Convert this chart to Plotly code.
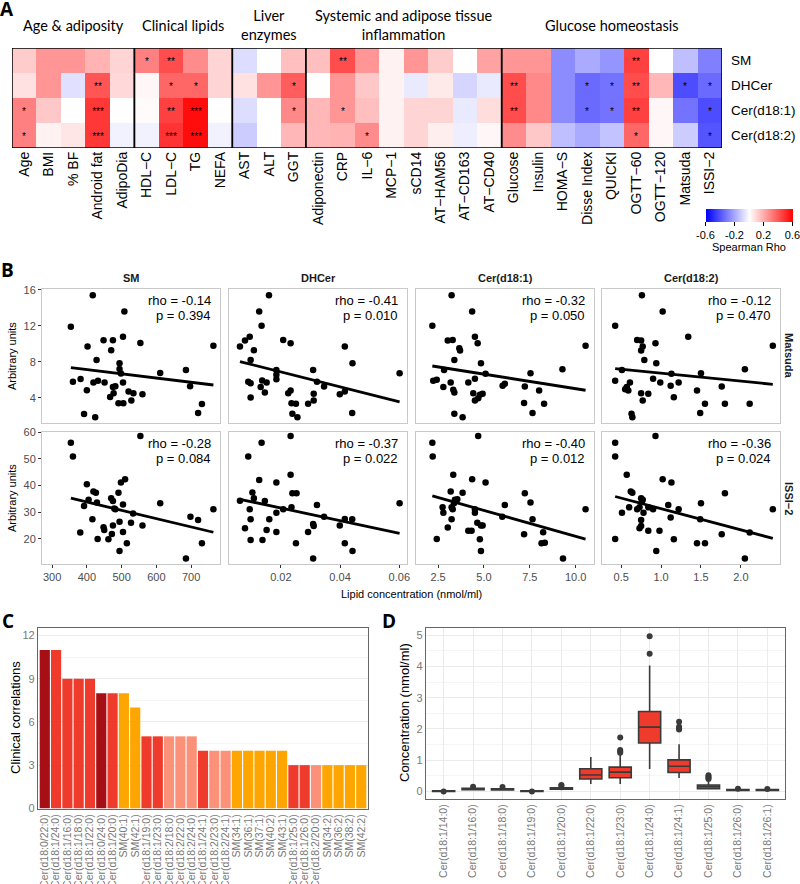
import numpy as np
import plotly.graph_objects as go

W, H = 800, 884
def px(x): return x / W
def py(y): return 1 - y / H

FONT = "Liberation Sans, Arial, sans-serif"
TITLEFONT = "Lato, Open Sans, sans-serif"

# ---------------- Panel A data ----------------
hm_cols = ["Age", "BMI", "% BF", "Android fat", "AdipoDia",
           "HDL−C", "LDL−C", "TG", "NEFA",
           "AST", "ALT", "GGT",
           "Adiponectin", "CRP", "IL−6", "MCP−1", "sCD14", "AT−HAM56", "AT−CD163", "AT−CD40",
           "Glucose", "Insulin", "HOMA−S", "Disse Index", "QUICKI", "OGTT−60", "OGTT−120", "Matsuda", "ISSI−2"]
hm_rows = ["SM", "DHCer", "Cer(d18:1)", "Cer(d18:2)"]

rho_sm = [0.12, 0.25, 0.25, 0.18, 0.10, 0.30, 0.42, 0.27, 0.10, -0.08, 0.0, 0.15,
          0.15, 0.42, 0.25, 0.03, 0.25, 0.12, 0.0, 0.22,
          0.25, 0.25, -0.27, -0.20, -0.25, 0.45, 0.0, -0.15, -0.30]
rho_dhcer = [0.07, 0.25, -0.07, 0.40, 0.09, 0.02, 0.36, 0.36, 0.10, 0.07, 0.25, 0.38,
             0.0, 0.25, 0.13, 0.03, -0.05, 0.05, -0.10, -0.05,
             0.42, 0.28, -0.27, -0.35, -0.33, 0.42, 0.17, -0.42, -0.35]
rho_c1 = [0.30, 0.13, 0.0, 0.47, 0.0, 0.01, 0.45, 0.57, 0.0, -0.08, 0.0, 0.28,
          0.17, 0.25, 0.15, 0.03, 0.10, 0.10, -0.05, 0.08,
          0.42, 0.28, -0.27, -0.35, -0.33, 0.45, 0.02, -0.33, -0.42]
rho_c2 = [0.30, 0.03, 0.06, 0.47, -0.03, -0.03, 0.48, 0.57, -0.03, -0.12, 0.0, 0.17,
          0.17, 0.18, 0.27, 0.03, 0.10, 0.04, -0.04, 0.02,
          0.27, 0.13, -0.15, -0.20, -0.14, 0.36, 0.02, -0.12, -0.40]

sig_sm = ["", "", "", "", "", "*", "**", "", "", "", "", "",
          "", "**", "", "", "", "", "", "",
          "", "", "", "", "", "**", "", "", ""]
sig_dhcer = ["", "", "", "**", "", "", "*", "*", "", "", "", "*",
             "", "", "", "", "", "", "", "",
             "**", "", "", "*", "*", "**", "", "*", "*"]
sig_c1 = ["*", "", "", "***", "", "", "**", "***", "", "", "", "*",
          "", "*", "", "", "", "", "", "",
          "**", "", "", "*", "*", "**", "", "", "*"]
sig_c2 = ["*", "", "", "***", "", "", "***", "***", "", "", "", "",
          "", "", "*", "", "", "", "", "",
          "", "", "", "", "", "*", "", "", "*"]

group_names = ["Age & adiposity", "Clinical lipids", "Liver<br>enzymes",
               "Systemic and adipose tissue<br>inflammation", "Glucose homeostasis"]
group_sizes = [5, 4, 3, 8, 9]
cbar_ticks = [-0.6, -0.2, 0.2, 0.6]

# ---------------- Panel B data ----------------
b_lipids = ["SM", "DHCer", "Cer(d18:1)", "Cer(d18:2)"]
b_outcomes = ["Matsuda", "ISSI−2"]

x_sm_mat = [354, 360, 382, 402, 400, 392, 424, 428, 432, 419, 448, 451, 475, 470, 475, 467, 482, 477, 494,
            494, 498, 504, 508, 504, 491, 505, 520, 528, 534, 554, 560, 611, 685, 697, 720, 731, 764, 417]
y_sm_mat = [11.9, 5.8, 6.1, 9.7, 4.85, 2.2, 1.85, 8.2, 5.9, 5.7, 10.4, 5.7, 10.4, 9.3, 5.2, 4.1, 5.3, 4.5, 7.85,
            7.2, 6.7, 5.7, 13.6, 10.8, 3.4, 3.4, 4.7, 3.7, 4.5, 10.1, 4.4, 6.75, 7.1, 5.3, 2.3, 3.3, 9.8, 15.4]

x_dh_mat = [0.0062, 0.0079, 0.0095, 0.0098, 0.0109, 0.0127, 0.0135, 0.0090, 0.0098, 0.0098, 0.0132, 0.0137,
            0.0152, 0.0146, 0.0185, 0.0185, 0.0185, 0.0208, 0.0233, 0.0225, 0.0233, 0.0236, 0.0239, 0.0251,
            0.0256, 0.0292, 0.0309, 0.0311, 0.0311, 0.0322, 0.0346, 0.0399, 0.0416, 0.0416, 0.0442, 0.0441,
            0.0601, 0.0160]
y_dh_mat = [9.7, 10.37, 10.8, 8.2, 9.3, 13.6, 12.0, 5.8, 5.63, 4.04, 5.2, 5.93,
            5.7, 4.6, 7.1, 6.56, 6.07, 10.44, 10.07, 4.52, 4.8, 3.4, 2.22, 3.33,
            1.85, 3.33, 7.1, 4.44, 3.7, 5.8, 5.26, 4.4, 4.7, 9.7, 7.85, 2.3,
            6.74, 15.4]

x_c1_mat = [2.19, 4.36, 3.03, 3.30, 3.66, 3.70, 3.39, 4.51, 4.66, 4.84, 2.83, 2.24, 2.43, 2.79, 3.19, 3.33,
            3.39, 4.15, 4.51, 5.09, 4.42, 4.78, 4.93, 4.51, 4.69, 6.02, 6.14, 7.23, 7.19, 7.54, 8.01, 8.28,
            7.65, 9.28, 10.54, 3.39, 3.84, 3.24]
y_c1_mat = [12.0, 13.6, 10.37, 10.44, 9.52, 9.26, 8.2, 10.8, 10.07, 7.85, 7.1, 5.89, 6.0, 5.2, 5.7, 4.89,
            4.6, 5.7, 6.11, 6.67, 4.52, 4.33, 4.44, 3.7, 3.96, 5.33, 5.56, 5.26, 3.41, 6.74, 4.81, 3.33,
            2.3, 7.19, 9.8, 2.22, 1.85, 15.4]

x_c2_mat = [0.425, 1.02, 0.70, 0.75, 0.77, 0.75, 0.79, 0.93, 0.94, 1.34, 0.51, 0.425, 0.61, 0.57, 0.59, 0.55,
            0.90, 0.99, 1.13, 1.22, 1.12, 0.75, 0.84, 0.77, 1.16, 1.50, 1.45, 1.55, 1.49, 1.76, 1.80, 2.05,
            2.11, 2.40, 0.63, 0.64, 0.76]
y_c2_mat = [12.0, 13.6, 10.44, 10.37, 9.7, 9.26, 8.2, 10.07, 7.85, 10.8, 7.1, 5.89, 5.7, 5.2, 4.81, 4.96,
            6.11, 5.7, 6.67, 5.7, 5.33, 4.52, 4.44, 3.7, 4.07, 6.74, 4.81, 3.33, 2.3, 5.26, 3.33, 7.19,
            3.33, 9.8, 2.22, 1.85, 15.4]

x_sm_issi = [354, 360, 554, 400, 405, 392, 419, 426, 429, 416, 381, 431, 448, 450, 462, 472, 475, 470, 475,
             491, 498, 510, 479, 482, 504, 494, 504, 515, 533, 527, 560, 611, 698, 720, 731, 764, 494, 685]
y_sm_issi = [56.1, 50.9, 58.6, 40.5, 34.6, 32.3, 37.7, 37.3, 33.6, 27.3, 22.3, 19.9, 24.3, 23.3, 19.8, 21.8,
             25.0, 35.2, 34.2, 37.3, 41.1, 42.3, 31.4, 31.1, 32.9, 26.4, 22.5, 18.3, 29.5, 26.0, 25.0, 33.3,
             28.3, 27.0, 18.3, 31.1, 15.4, 12.6]

x_dh_issi = [0.0062, 0.0079, 0.0090, 0.0095, 0.0098, 0.0098, 0.0104, 0.0109, 0.0127, 0.0135, 0.0138, 0.0146,
             0.0152, 0.0161, 0.0185, 0.0185, 0.0185, 0.0208, 0.0233, 0.0233, 0.0236, 0.0239, 0.0253, 0.0251,
             0.0292, 0.0309, 0.0311, 0.0322, 0.0346, 0.0399, 0.0416, 0.0441, 0.0416, 0.0601, 0.0309, 0.0442]
y_dh_issi = [34.3, 23.9, 50.9, 31.1, 27.3, 19.5, 37.4, 35.2, 42.1, 56.1, 19.5, 34.2,
             23.3, 27.3, 41.1, 29.8, 22.5, 31.1, 58.6, 44.0, 31.8, 37.1, 37.1, 18.3,
             22.5, 25.5, 24.8, 32.7, 28.3, 25.0, 27.4, 27.3, 18.3, 33.3, 12.6, 15.4]

x_c1_issi = [2.19, 2.21, 4.69, 3.33, 4.36, 5.09, 3.19, 3.84, 3.42, 3.55, 2.75, 2.79, 3.24, 3.30, 3.37, 4.51,
             4.51, 4.84, 4.64, 4.93, 3.24, 3.03, 4.15, 4.33, 4.78, 6.0, 6.14, 7.23, 7.54, 7.65, 7.19, 8.23,
             8.32, 8.14, 10.54, 2.43, 4.84, 9.31]
y_c1_issi = [56.1, 50.9, 58.6, 44.0, 42.3, 41.1, 37.7, 37.3, 34.6, 34.8, 31.8, 29.8, 31.8, 31.1, 33.3, 31.1,
             29.8, 25.0, 26.0, 25.0, 27.3, 24.2, 23.0, 23.0, 19.8, 28.3, 32.7, 37.1, 33.6, 27.3, 21.7, 22.4,
             18.5, 18.3, 31.1, 19.9, 15.4, 12.6]

x_c2_issi = [0.425, 0.425, 0.93, 0.57, 1.02, 1.13, 0.62, 0.64, 0.75, 0.77, 0.76, 0.60, 0.73, 0.70, 0.51, 0.78,
             0.84, 0.90, 0.75, 0.75, 0.73, 0.84, 0.98, 1.09, 1.22, 1.12, 1.50, 1.49, 1.80, 1.76, 2.11, 2.40,
             0.425, 1.16, 0.94, 1.45, 1.55, 2.05]
y_c2_issi = [56.1, 50.9, 58.6, 44.0, 42.3, 41.1, 37.7, 37.3, 35.2, 34.6, 33.9, 31.8, 31.8, 31.1, 29.8, 29.8,
             31.8, 31.1, 27.0, 24.8, 23.9, 23.0, 23.0, 32.7, 31.1, 28.0, 33.3, 27.3, 37.1, 21.7, 22.3, 31.1,
             19.9, 19.8, 15.4, 18.3, 18.3, 12.6]

b_rho = ["-0.14", "-0.41", "-0.32", "-0.12", "-0.28", "-0.37", "-0.40", "-0.36"]
b_p = ["0.394", "0.010", "0.050", "0.470", "0.084", "0.022", "0.012", "0.024"]

b_xticks = [[300, 400, 500, 600, 700], [0.02, 0.04, 0.06], [2.5, 5.0, 7.5, 10.0], [0.5, 1.0, 1.5, 2.0]]
b_xtick_text = [["300", "400", "500", "600", "700"], ["0.02", "0.04", "0.06"],
                ["2.5", "5.0", "7.5", "10.0"], ["0.5", "1.0", "1.5", "2.0"]]
b_xranges = [[271, 783], [0.0025, 0.0626], [1.3, 11.0], [0.26, 2.49]]
b_yticks = [[4, 8, 12, 16], [20, 30, 40, 50, 60]]
b_yranges = [[1.2, 16.1], [10.5, 60.1]]

# ---------------- Panel C data ----------------
c_species = ["Cer(d18:0/22:0)", "Cer(d18:1/24:0)", "Cer(d18:1/16:0)", "Cer(d18:1/18:0)", "Cer(d18:1/22:0)",
             "Cer(d18:0/24:0)", "Cer(d18:1/20:0)", "SM(40:1)", "SM(42:1)", "Cer(d18:1/19:0)",
             "Cer(d18:1/23:0)", "Cer(d18:2/18:0)", "Cer(d18:2/22:0)", "Cer(d18:2/24:0)", "Cer(d18:1/24:1)",
             "Cer(d18:2/23:0)", "Cer(d18:2/24:1)", "SM(34:1)", "SM(36:1)", "SM(37:1)", "SM(40:2)", "SM(43:1)",
             "Cer(d18:1/25:0)", "Cer(d18:1/26:0)", "Cer(d18:2/20:0)", "SM(34:2)", "SM(36:2)", "SM(38:2)",
             "SM(42:2)"]
c_counts = [11, 11, 9, 9, 9, 8, 8, 8, 7, 5, 5, 5, 5, 5, 4, 4, 4, 4, 4, 4, 4, 4, 3, 3, 3, 3, 3, 3, 3]
c_class = ["d18:0", "d18:1", "d18:1", "d18:1", "d18:1", "d18:0", "d18:1", "SM", "SM", "d18:1",
           "d18:1", "d18:2", "d18:2", "d18:2", "d18:1", "d18:2", "d18:2", "SM", "SM", "SM", "SM", "SM",
           "d18:1", "d18:1", "d18:2", "SM", "SM", "SM", "SM"]
class_colors = {"d18:0": "#A50F15", "d18:1": "#EF3B2C", "d18:2": "#FB9178", "SM": "#FFA500"}
c_yticks = [0, 3, 6, 9, 12]

# ---------------- Panel D data ----------------
d_species = ["Cer(d18:1/14:0)", "Cer(d18:1/16:0)", "Cer(d18:1/18:0)", "Cer(d18:1/19:0)", "Cer(d18:1/20:0)",
             "Cer(d18:1/22:0)", "Cer(d18:1/23:0)", "Cer(d18:1/24:0)", "Cer(d18:1/24:1)", "Cer(d18:1/25:0)",
             "Cer(d18:1/26:0)", "Cer(d18:1/26:1)"]
d_low = [0.0, 0.04, 0.03, 0.0, 0.04, 0.24, 0.24, 0.72, 0.43, 0.06, 0.01, 0.01]
d_q1 = [0.005, 0.06, 0.05, 0.005, 0.07, 0.40, 0.44, 1.55, 0.61, 0.09, 0.03, 0.03]
d_med = [0.012, 0.08, 0.07, 0.012, 0.09, 0.53, 0.62, 2.06, 0.81, 0.15, 0.04, 0.04]
d_q3 = [0.02, 0.10, 0.09, 0.02, 0.12, 0.73, 0.78, 2.56, 1.01, 0.21, 0.06, 0.06]
d_high = [0.035, 0.13, 0.12, 0.035, 0.16, 1.10, 1.17, 4.03, 1.51, 0.32, 0.08, 0.08]
d_out_x = ["Cer(d18:1/16:0)", "Cer(d18:1/18:0)", "Cer(d18:1/20:0)", "Cer(d18:1/20:0)",
           "Cer(d18:1/23:0)", "Cer(d18:1/23:0)", "Cer(d18:1/23:0)", "Cer(d18:1/23:0)",
           "Cer(d18:1/24:0)", "Cer(d18:1/24:0)",
           "Cer(d18:1/24:1)", "Cer(d18:1/24:1)", "Cer(d18:1/24:1)", "Cer(d18:1/24:1)",
           "Cer(d18:1/25:0)", "Cer(d18:1/25:0)", "Cer(d18:1/25:0)", "Cer(d18:1/25:0)",
           "Cer(d18:1/26:0)", "Cer(d18:1/26:1)", "Cer(d18:1/14:0)", "Cer(d18:1/19:0)"]
d_out_y = [0.15, 0.14, 0.18, 0.21,
           1.73, 1.33, 1.28, 1.24,
           4.97, 4.41,
           2.23, 2.07, 2.02, 1.98,
           0.52, 0.47, 0.43, 0.40,
           0.09, 0.08, 0.0, 0.0]
d_yticks = [0, 1, 2, 3, 4, 5]

# ================= Figure =================
fig = go.Figure()
layout = dict(width=W, height=H, margin=dict(l=0, r=0, t=0, b=0, autoexpand=False),
              paper_bgcolor="white", plot_bgcolor="white", showlegend=False,
              font=dict(family=FONT, color="black"), bargap=0.1)
annotations = []
shapes = []

# ---- Panel A ----
hm_left, hm_right, hm_top, hm_bot = 12, 722, 48, 148
cw = (hm_right - hm_left) / len(hm_cols)
rh = (hm_bot - hm_top) / len(hm_rows)
fig.add_trace(go.Heatmap(
    z=[rho_sm, rho_dhcer, rho_c1, rho_c2],
    x=list(range(len(hm_cols))), y=list(range(len(hm_rows))),
    text=[sig_sm, sig_dhcer, sig_c1, sig_c2], texttemplate="%{text}",
    textfont=dict(size=10, color="black", family=FONT),
    colorscale=[[0, "rgb(0,0,255)"], [0.5, "rgb(255,255,255)"], [1, "rgb(255,0,0)"]],
    zmin=-0.6, zmax=0.6, hoverinfo="skip", xaxis="x", yaxis="y",
    colorbar=dict(orientation="h", x=px(749), xanchor="center", y=py(209), yanchor="top",
                  len=87, lenmode="pixels", thickness=13, xpad=0, ypad=0, outlinewidth=0,
                  tickvals=cbar_ticks, ticktext=[f"{v:.1f}" for v in cbar_ticks],
                  ticks="outside", ticklen=4, tickcolor="black", ticklabeloverflow="allow",
                  tickfont=dict(size=11, family=FONT, color="black"))))
annotations.append(dict(text="Spearman Rho", x=px(749), y=py(247), xref="paper", yref="paper",
                        xanchor="center", yanchor="middle", showarrow=False,
                        font=dict(size=11, family=FONT, color="black")))
layout["xaxis"] = dict(domain=[px(hm_left), px(hm_right)], anchor="y", range=[-0.5, len(hm_cols) - 0.5],
                       tickvals=list(range(len(hm_cols))), ticktext=hm_cols, tickangle=-90,
                       ticks="", showgrid=False, zeroline=False, automargin=False,
                       tickfont=dict(size=14, family=FONT, color="black"))
layout["yaxis"] = dict(domain=[py(hm_bot), py(hm_top)], anchor="x", range=[len(hm_rows) - 0.5, -0.5],
                       showticklabels=False, ticks="", showgrid=False, zeroline=False, automargin=False)
for j, name in enumerate(hm_rows):
    annotations.append(dict(text=name, x=px(hm_right + 7), y=py(hm_top + (j + 0.5) * rh),
                            xref="paper", yref="paper", xanchor="left", yanchor="middle",
                            showarrow=False, font=dict(size=13.5, family=FONT, color="black")))
start = 0
for name, n in zip(group_names, group_sizes):
    shapes.append(dict(type="rect", xref="x", yref="y", x0=start - 0.5, x1=start + n - 0.5,
                       y0=-0.5, y1=len(hm_rows) - 0.5, line=dict(color="black", width=1.5)))
    cx = hm_left + (start + n / 2) * cw
    annotations.append(dict(text=name, x=px(cx), y=py(25), xref="paper", yref="paper",
                            xanchor="center", yanchor="middle", showarrow=False,
                            font=dict(size=14.5, family=TITLEFONT, color="black")))
    start += n

# ---- Panel B ----
b_x = [x_sm_mat, x_dh_mat, x_c1_mat, x_c2_mat, x_sm_issi, x_dh_issi, x_c1_issi, x_c2_issi]
b_y = [y_sm_mat, y_dh_mat, y_c1_mat, y_c2_mat, y_sm_issi, y_dh_issi, y_c1_issi, y_c2_issi]
col_px = [(42, 220), (229, 407), (416, 594), (602, 780)]
row_px = [(289, 423), (432, 564)]
for i in range(8):
    r, c = divmod(i, 4)
    k = i + 2
    xa, ya = f"x{k}", f"y{k}"
    xs = np.array(b_x[i], dtype=float)
    ys = np.array(b_y[i], dtype=float)
    fig.add_trace(go.Scatter(x=xs, y=ys, mode="markers", xaxis=xa, yaxis=ya,
                             marker=dict(size=6.5, color="black"), hoverinfo="skip"))
    slope, icpt = np.polyfit(xs, ys, 1)
    lx = np.array([xs.min(), xs.max()])
    fig.add_trace(go.Scatter(x=lx, y=slope * lx + icpt, mode="lines", xaxis=xa, yaxis=ya,
                             line=dict(color="black", width=2.8), hoverinfo="skip"))
    axline = dict(showline=True, mirror=True, linecolor="#C9C9C9", linewidth=1, showgrid=False,
                  zeroline=False, automargin=False)
    layout[f"xaxis{k}"] = dict(domain=[px(col_px[c][0]), px(col_px[c][1])], anchor=ya,
                               range=b_xranges[c], tickvals=b_xticks[c], ticktext=b_xtick_text[c],
                               showticklabels=(r == 1), ticks="outside" if r == 1 else "",
                               ticklen=3, tickcolor="#333333",
                               tickfont=dict(size=11, color="#4D4D4D", family=FONT), **axline)
    layout[f"yaxis{k}"] = dict(domain=[py(row_px[r][1]), py(row_px[r][0])], anchor=xa,
                               range=b_yranges[r], tickvals=b_yticks[r],
                               showticklabels=(c == 0), ticks="outside" if c == 0 else "",
                               ticklen=3, tickcolor="#333333",
                               tickfont=dict(size=11, color="#4D4D4D", family=FONT), **axline)
    rx = col_px[c][1] - 7
    annotations.append(dict(text=f"rho = {b_rho[i]}", x=px(rx), y=py(row_px[r][0] + 11),
                            xref="paper", yref="paper", xanchor="right", yanchor="middle",
                            showarrow=False, font=dict(size=13, family=FONT)))
    annotations.append(dict(text=f"p = {b_p[i]}", x=px(rx), y=py(row_px[r][0] + 26.5),
                            xref="paper", yref="paper", xanchor="right", yanchor="middle",
                            showarrow=False, font=dict(size=13, family=FONT)))
for c, name in enumerate(b_lipids):
    annotations.append(dict(text=f"<b>{name}</b>", x=px((col_px[c][0] + col_px[c][1]) / 2), y=py(278),
                            xref="paper", yref="paper", xanchor="center", yanchor="middle",
                            showarrow=False, font=dict(size=11, family=FONT, color="#1A1A1A")))
for r, name in enumerate(b_outcomes):
    annotations.append(dict(text=f"<b>{name}</b>", x=px(789), y=py((row_px[r][0] + row_px[r][1]) / 2),
                            xref="paper", yref="paper", xanchor="center", yanchor="middle", textangle=90,
                            showarrow=False, font=dict(size=11, family=FONT, color="#1A1A1A")))
    annotations.append(dict(text="Arbitrary units", x=px(12), y=py((row_px[r][0] + row_px[r][1]) / 2),
                            xref="paper", yref="paper", xanchor="center", yanchor="middle", textangle=-90,
                            showarrow=False, font=dict(size=11, family=FONT, color="black")))
annotations.append(dict(text="Lipid concentration (nmol/ml)", x=px(411), y=py(594), xref="paper", yref="paper",
                        xanchor="center", yanchor="middle", showarrow=False,
                        font=dict(size=11, family=FONT, color="black")))

# ---- Panel C ----
fig.add_trace(go.Bar(x=list(range(len(c_species))), y=c_counts, xaxis="x10", yaxis="y10",
                     marker=dict(color=[class_colors[k] for k in c_class], line=dict(width=0)),
                     hoverinfo="skip"))
layout["xaxis10"] = dict(domain=[px(38), px(368)], anchor="y10", range=[-0.6, len(c_species) - 0.4],
                         tickvals=list(range(len(c_species))), ticktext=c_species, tickangle=-90, ticks="",
                         showgrid=False, zeroline=False, showline=True, mirror=True, linecolor="#666666",
                         linewidth=1.3, automargin=False,
                         tickfont=dict(size=10.5, color="#777777", family=FONT))
layout["yaxis10"] = dict(domain=[py(809), py(628)], anchor="x10", range=[-0.05, 12.53], tickvals=c_yticks,
                         showgrid=True, gridcolor="#EDEDED", gridwidth=1,
                         minor=dict(dtick=1.5, showgrid=True, gridcolor="#F6F6F6"),
                         zeroline=False, showline=True, mirror=True, linecolor="#666666", linewidth=1.3,
                         ticks="", automargin=False, tickfont=dict(size=11, color="#7A7A7A", family=FONT))
annotations.append(dict(text="Clinical correlations", x=px(15), y=py(718), xref="paper", yref="paper",
                        xanchor="center", yanchor="middle", textangle=-90, showarrow=False,
                        font=dict(size=13, family=FONT, color="black")))

# ---- Panel D ----
fig.add_trace(go.Box(x=d_species, q1=d_q1, median=d_med, q3=d_q3, lowerfence=d_low, upperfence=d_high,
                     xaxis="x11", yaxis="y11", fillcolor="#EF3B2C", line=dict(color="#3A3A3A", width=1.6),
                     width=0.75, whiskerwidth=0, boxpoints=False, hoverinfo="skip"))
fig.add_trace(go.Scatter(x=d_out_x, y=d_out_y, mode="markers", xaxis="x11", yaxis="y11",
                         marker=dict(size=6, color="#3A3A3A"), hoverinfo="skip"))
layout["xaxis11"] = dict(domain=[px(426), px(785)], anchor="y11", type="category",
                         categoryorder="array", categoryarray=d_species, range=[-0.6, len(d_species) - 0.4],
                         tickangle=-90, ticks="", showgrid=True, gridcolor="#EBEBEB", zeroline=False,
                         showline=True, mirror=True, linecolor="#666666", linewidth=1.3, automargin=False,
                         tickfont=dict(size=10.5, color="#777777", family=FONT))
layout["yaxis11"] = dict(domain=[py(799), py(628)], anchor="x11", range=[-0.24, 5.23], tickvals=d_yticks,
                         showgrid=True, gridcolor="#EBEBEB", gridwidth=1,
                         minor=dict(dtick=0.5, showgrid=True, gridcolor="#F5F5F5"),
                         zeroline=False, showline=True, mirror=True, linecolor="#666666", linewidth=1.3,
                         ticks="", automargin=False, tickfont=dict(size=11, color="#7A7A7A", family=FONT))
annotations.append(dict(text="Concentration (nmol/ml)", x=px(404), y=py(713), xref="paper", yref="paper",
                        xanchor="center", yanchor="middle", textangle=-90, showarrow=False,
                        font=dict(size=13, family=FONT, color="black")))

# ---- Panel letters ----
for letter, lx_, ly_ in [("A", 7, 9), ("B", 7, 270), ("C", 8, 621), ("D", 389, 621)]:
    annotations.append(dict(text=f"<b>{letter}</b>", x=px(lx_), y=py(ly_), xref="paper", yref="paper",
                            xanchor="center", yanchor="middle", showarrow=False,
                            font=dict(size=19, family="Open Sans, sans-serif", color="black")))

layout["annotations"] = annotations
layout["shapes"] = shapes
fig.update_layout(**layout)
fig.write_html("out.html", config={"displayModeBar": False},
               post_script="document.body.style.margin='0';document.body.style.padding='0';"
                           "document.body.style.overflow='hidden';")
